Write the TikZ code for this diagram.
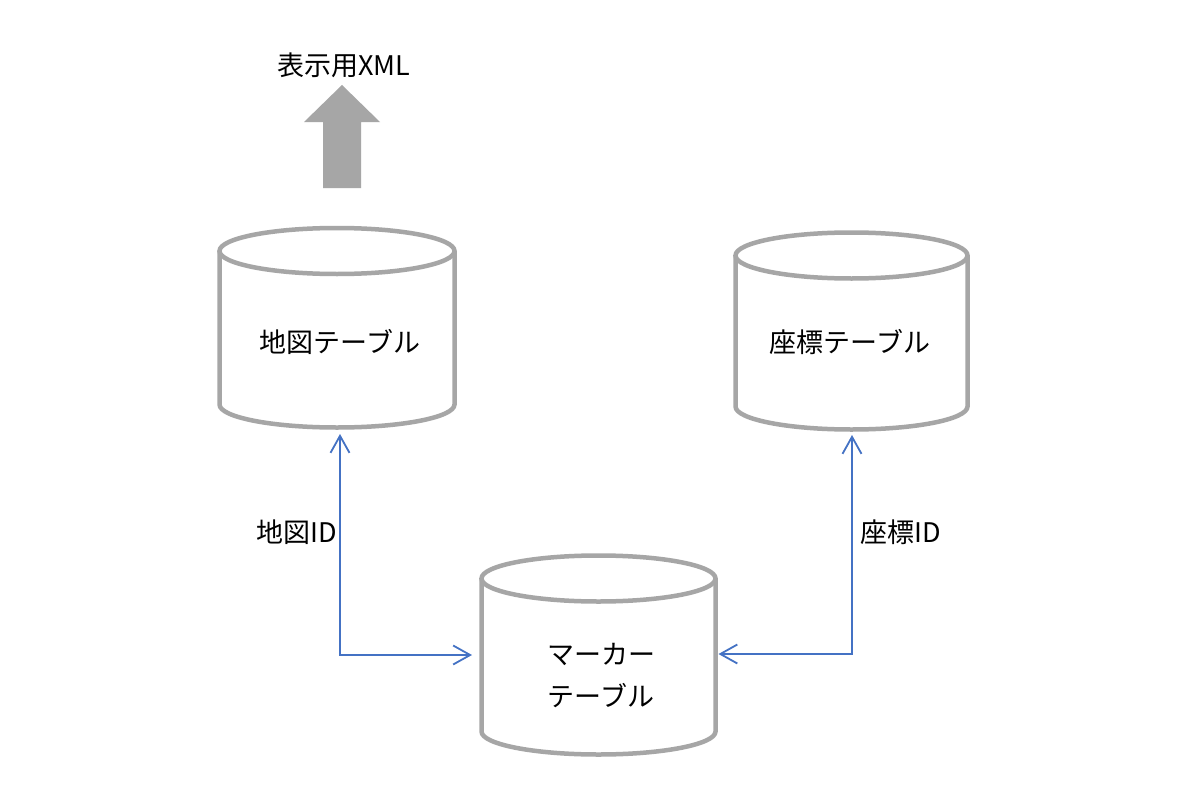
\documentclass[tikz,border=0pt]{standalone}
\usepackage{fontspec}
\setmainfont{Noto Sans CJK JP}
\usetikzlibrary{arrows.meta}
\definecolor{cylgray}{HTML}{A6A6A6}
\definecolor{connblue}{HTML}{4472C4}
\newcommand\dbcyl[6]{%
  \draw[cyl] (#2,#3) ellipse [x radius=#5pt, y radius=#6pt];
  \draw[cyl] ({#2-#5},#3) -- ({#2-#5},#4)
     arc[start angle=180, end angle=360, x radius=#5pt, y radius=#6pt]
     -- ({#2+#5},#3);
  \node[inner sep=0pt, outer sep=0pt, minimum width={2*#5pt},
        minimum height={(#4-#3+2*#6)*1pt}] (#1) at (#2,{(#3+#4)/2}) {};
}
\begin{document}
\begin{tikzpicture}[x=1pt,y=-1pt,
  cyl/.style={draw=cylgray, line width=4.5pt},
  conn/.style={draw=connblue, line width=1.8pt,
     {Straight Barb[length=17pt,width=19pt]}-{Straight Barb[length=17pt,width=19pt]}},
  lbl/.style={font=\fontsize{27}{42}\selectfont, inner sep=0pt, align=center},
  blockarrow/.style={fill=cylgray, draw=none}]
\fill[white] (0,0) rectangle (1200,800);
\useasboundingbox (0,0) rectangle (1200,800);

% cylinders
\dbcyl{map}{337}{251}{404.5}{117.5}{23}
\dbcyl{coord}{851.5}{255.5}{406.5}{116}{23}
\dbcyl{marker}{598.5}{578.5}{731.5}{117}{23}

% cylinder texts
\node[lbl] (mapT) at (340,342) {地図テーブル};
\node[lbl] (coordT) at (850,342) {座標テーブル};
\node[lbl] (markerT) at (601,676) {マーカー\\テーブル};

% block arrow and its label
\fill[blockarrow] (323,188) -- (323,122) -- (304,122) -- (342,85)
   -- (380,122) -- (361,122) -- (361,188) -- cycle;
\node[lbl] (xml) at (344,65) {表示用XML};

% connectors
\draw[conn] ([xshift=3pt,yshift=-6.5pt]map.south) |- ([xshift=-9.5pt]marker.west);
\draw[conn] ([xshift=0.5pt,yshift=-5.5pt]coord.south) |- ([xshift=3pt,yshift=1pt]marker.east);

% connector labels
\node[lbl, anchor=east] (mapID) at (337,532) {地図ID};
\node[lbl, anchor=west] (coordID) at (860,532) {座標ID};
\end{tikzpicture}
\end{document}
